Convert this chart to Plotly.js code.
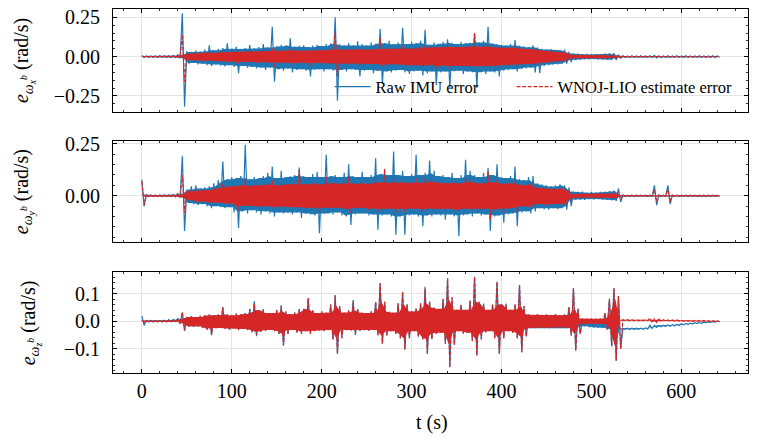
<!DOCTYPE html>
<html>
<head>
<meta charset="utf-8">
<script src="https://cdn.plot.ly/plotly-3.0.1.min.js"></script>
<style>
  html, body { margin: 0; padding: 0; background: #ffffff; }
  #chart { width: 759px; height: 444px; }
</style>
</head>
<body>
<div id="chart"></div>
<script>
// Angular-velocity error, min/max per 5 s bin (rad/s); bin i starts at t = 5*i s.
const T_STEP = 5;

// ---- x axis (body frame) ----
const wxRawHi = [
  0.006, 0.004, 0.004, 0.004, 0.005, 0.005, 0.006, 0.007, 0.012, 0.275,
  0.035, 0.030, 0.038, 0.032, 0.045, 0.072, 0.040, 0.048, 0.055, 0.085,
  0.050, 0.062, 0.048, 0.055, 0.074, 0.052, 0.060, 0.080, 0.058, 0.190,
  0.065, 0.075, 0.070, 0.117, 0.062, 0.068, 0.072, 0.060, 0.070, 0.075,
  0.068, 0.080, 0.085, 0.250, 0.078, 0.070, 0.085, 0.072, 0.098, 0.080,
  0.070, 0.090, 0.082, 0.176, 0.085, 0.100, 0.078, 0.090, 0.184, 0.080,
  0.095, 0.085, 0.100, 0.170, 0.075, 0.090, 0.082, 0.095, 0.110, 0.088,
  0.080, 0.095, 0.085, 0.090, 0.148, 0.090, 0.100, 0.190, 0.085, 0.080,
  0.075, 0.070, 0.080, 0.105, 0.070, 0.065, 0.060, 0.072, 0.060, 0.050,
  0.045, 0.048, 0.042, 0.040, 0.045, 0.030, 0.020, 0.018, 0.015, 0.016,
  0.014, 0.015, 0.015, 0.018, 0.020, 0.022, 0.012, 0.005, 0.004, 0.005,
  0.004, 0.005, 0.004, 0.005, 0.008, 0.005, 0.004, 0.005, 0.004, 0.005,
  0.004, 0.005, 0.004, 0.004, 0.005, 0.004, 0.004, 0.005, 0.004
];
const wxRawLo = [
  -0.004, -0.004, -0.004, -0.005, -0.004, -0.005, -0.005, -0.006, -0.010, -0.318,
  -0.045, -0.040, -0.050, -0.045, -0.055, -0.060, -0.050, -0.058, -0.062, -0.055,
  -0.065, -0.106, -0.060, -0.070, -0.065, -0.075, -0.070, -0.085, -0.070, -0.160,
  -0.080, -0.090, -0.075, -0.100, -0.085, -0.080, -0.090, -0.127, -0.085, -0.080,
  -0.095, -0.080, -0.090, -0.280, -0.085, -0.095, -0.080, -0.085, -0.127, -0.090,
  -0.085, -0.105, -0.090, -0.174, -0.095, -0.100, -0.090, -0.085, -0.100, -0.110,
  -0.095, -0.090, -0.120, -0.105, -0.095, -0.180, -0.100, -0.095, -0.200, -0.095,
  -0.090, -0.110, -0.095, -0.100, -0.200, -0.100, -0.110, -0.095, -0.100, -0.127,
  -0.090, -0.085, -0.080, -0.095, -0.080, -0.075, -0.070, -0.100, -0.105, -0.060,
  -0.055, -0.050, -0.050, -0.045, -0.045, -0.035, -0.022, -0.018, -0.016, -0.017,
  -0.015, -0.016, -0.018, -0.020, -0.020, -0.022, -0.010, -0.005, -0.004, -0.005,
  -0.004, -0.005, -0.004, -0.005, -0.008, -0.005, -0.004, -0.005, -0.004, -0.005,
  -0.004, -0.005, -0.004, -0.004, -0.005, -0.004, -0.004, -0.005, -0.004
];
const wxEstHi = [
  0.005, 0.003, 0.003, 0.003, 0.003, 0.003, 0.003, 0.004, 0.008, 0.140,
  0.020, 0.022, 0.025, 0.022, 0.028, 0.030, 0.025, 0.028, 0.030, 0.035,
  0.030, 0.032, 0.030, 0.035, 0.038, 0.032, 0.035, 0.040, 0.035, 0.055,
  0.038, 0.042, 0.040, 0.050, 0.038, 0.040, 0.042, 0.038, 0.040, 0.045,
  0.042, 0.045, 0.048, 0.160, 0.045, 0.042, 0.048, 0.045, 0.055, 0.048,
  0.045, 0.050, 0.048, 0.120, 0.050, 0.055, 0.048, 0.052, 0.065, 0.050,
  0.055, 0.052, 0.060, 0.070, 0.058, 0.062, 0.060, 0.065, 0.075, 0.062,
  0.060, 0.065, 0.062, 0.068, 0.150, 0.065, 0.070, 0.080, 0.062, 0.060,
  0.058, 0.055, 0.060, 0.065, 0.055, 0.050, 0.048, 0.050, 0.045, 0.038,
  0.035, 0.035, 0.032, 0.030, 0.032, 0.022, 0.012, 0.010, 0.009, 0.010,
  0.009, 0.010, 0.009, 0.010, 0.011, 0.012, 0.006, 0.003, 0.002, 0.002,
  0.002, 0.002, 0.002, 0.002, 0.003, 0.002, 0.002, 0.002, 0.002, 0.002,
  0.002, 0.002, 0.002, 0.002, 0.002, 0.002, 0.002, 0.002, 0.002
];
const wxEstLo = [
  -0.003, -0.003, -0.003, -0.003, -0.003, -0.003, -0.003, -0.004, -0.008, -0.160,
  -0.022, -0.025, -0.028, -0.025, -0.030, -0.032, -0.028, -0.030, -0.032, -0.035,
  -0.032, -0.045, -0.032, -0.036, -0.035, -0.038, -0.036, -0.042, -0.038, -0.065,
  -0.040, -0.045, -0.040, -0.048, -0.042, -0.040, -0.045, -0.055, -0.042, -0.040,
  -0.045, -0.042, -0.048, -0.130, -0.045, -0.048, -0.042, -0.045, -0.055, -0.048,
  -0.045, -0.052, -0.048, -0.060, -0.050, -0.052, -0.048, -0.050, -0.055, -0.058,
  -0.055, -0.052, -0.062, -0.058, -0.055, -0.075, -0.058, -0.060, -0.078, -0.060,
  -0.058, -0.062, -0.060, -0.062, -0.065, -0.060, -0.065, -0.060, -0.062, -0.070,
  -0.058, -0.055, -0.052, -0.058, -0.050, -0.048, -0.045, -0.055, -0.055, -0.040,
  -0.036, -0.034, -0.032, -0.030, -0.030, -0.022, -0.012, -0.010, -0.009, -0.010,
  -0.009, -0.010, -0.010, -0.011, -0.011, -0.012, -0.006, -0.003, -0.002, -0.002,
  -0.002, -0.002, -0.002, -0.002, -0.002, -0.002, -0.002, -0.002, -0.002, -0.002,
  -0.002, -0.002, -0.002, -0.002, -0.002, -0.002, -0.002, -0.002, -0.002
];

// ---- y axis (body frame) ----
const wyRawHi = [
  0.077, 0.006, 0.004, 0.004, 0.004, 0.004, 0.004, 0.006, 0.012, 0.190,
  0.030, 0.045, 0.050, 0.035, 0.040, 0.045, 0.060, 0.075, 0.165, 0.080,
  0.090, 0.085, 0.095, 0.245, 0.080, 0.090, 0.085, 0.095, 0.110, 0.140,
  0.085, 0.120, 0.090, 0.095, 0.100, 0.136, 0.095, 0.090, 0.105, 0.115,
  0.090, 0.197, 0.095, 0.100, 0.090, 0.110, 0.152, 0.095, 0.090, 0.115,
  0.090, 0.100, 0.180, 0.105, 0.110, 0.100, 0.213, 0.100, 0.120, 0.095,
  0.105, 0.197, 0.100, 0.110, 0.170, 0.120, 0.095, 0.100, 0.090, 0.110,
  0.085, 0.100, 0.173, 0.120, 0.100, 0.090, 0.110, 0.135, 0.100, 0.152,
  0.090, 0.085, 0.095, 0.140, 0.080, 0.075, 0.090, 0.095, 0.060, 0.055,
  0.050, 0.045, 0.050, 0.055, 0.050, 0.040, 0.020, 0.018, 0.020, 0.015,
  0.018, 0.015, 0.018, 0.020, 0.022, 0.025, 0.035, 0.004, 0.003, 0.003,
  0.003, 0.003, 0.003, 0.003, 0.050, 0.004, 0.003, 0.050, 0.003, 0.003,
  0.003, 0.003, 0.003, 0.003, 0.003, 0.003, 0.003, 0.003, 0.003
];
const wyRawLo = [
  -0.050, -0.004, -0.004, -0.004, -0.004, -0.004, -0.004, -0.005, -0.010, -0.170,
  -0.035, -0.040, -0.045, -0.040, -0.050, -0.060, -0.050, -0.055, -0.060, -0.055,
  -0.080, -0.155, -0.075, -0.085, -0.070, -0.080, -0.090, -0.075, -0.085, -0.100,
  -0.080, -0.085, -0.080, -0.090, -0.080, -0.107, -0.085, -0.090, -0.095, -0.180,
  -0.085, -0.085, -0.090, -0.080, -0.095, -0.100, -0.140, -0.090, -0.085, -0.085,
  -0.095, -0.090, -0.163, -0.095, -0.090, -0.100, -0.187, -0.100, -0.187, -0.095,
  -0.090, -0.100, -0.147, -0.095, -0.100, -0.090, -0.095, -0.115, -0.090, -0.100,
  -0.195, -0.095, -0.090, -0.100, -0.085, -0.095, -0.090, -0.170, -0.100, -0.095,
  -0.130, -0.090, -0.085, -0.147, -0.080, -0.075, -0.085, -0.075, -0.060, -0.065,
  -0.067, -0.060, -0.065, -0.060, -0.067, -0.050, -0.020, -0.018, -0.020, -0.016,
  -0.018, -0.016, -0.018, -0.020, -0.022, -0.025, -0.030, -0.004, -0.003, -0.003,
  -0.003, -0.003, -0.003, -0.003, -0.045, -0.004, -0.003, -0.040, -0.003, -0.003,
  -0.003, -0.003, -0.003, -0.003, -0.003, -0.003, -0.003, -0.003, -0.003
];
const wyEstHi = [
  0.070, 0.003, 0.003, 0.003, 0.003, 0.003, 0.003, 0.004, 0.008, 0.100,
  0.022, 0.030, 0.035, 0.025, 0.028, 0.030, 0.035, 0.040, 0.060, 0.045,
  0.050, 0.048, 0.052, 0.085, 0.048, 0.052, 0.050, 0.055, 0.060, 0.075,
  0.050, 0.065, 0.055, 0.058, 0.060, 0.125, 0.058, 0.055, 0.062, 0.065,
  0.055, 0.090, 0.060, 0.062, 0.058, 0.065, 0.090, 0.060, 0.058, 0.065,
  0.058, 0.062, 0.085, 0.065, 0.130, 0.062, 0.090, 0.062, 0.070, 0.060,
  0.065, 0.085, 0.062, 0.085, 0.075, 0.070, 0.062, 0.065, 0.060, 0.070,
  0.060, 0.065, 0.090, 0.075, 0.065, 0.060, 0.070, 0.117, 0.065, 0.080,
  0.060, 0.058, 0.062, 0.075, 0.055, 0.050, 0.060, 0.058, 0.040, 0.038,
  0.035, 0.032, 0.035, 0.038, 0.035, 0.028, 0.010, 0.009, 0.010, 0.008,
  0.009, 0.008, 0.009, 0.010, 0.011, 0.012, 0.020, 0.002, 0.002, 0.002,
  0.002, 0.002, 0.002, 0.002, 0.030, 0.002, 0.002, 0.030, 0.002, 0.002,
  0.002, 0.002, 0.002, 0.002, 0.002, 0.002, 0.002, 0.002, 0.002
];
const wyEstLo = [
  -0.045, -0.003, -0.003, -0.003, -0.003, -0.003, -0.003, -0.004, -0.008, -0.083,
  -0.022, -0.028, -0.032, -0.028, -0.032, -0.038, -0.032, -0.035, -0.040, -0.038,
  -0.050, -0.065, -0.048, -0.052, -0.048, -0.052, -0.055, -0.050, -0.055, -0.062,
  -0.052, -0.055, -0.052, -0.058, -0.055, -0.065, -0.058, -0.060, -0.062, -0.083,
  -0.058, -0.060, -0.062, -0.058, -0.062, -0.065, -0.080, -0.062, -0.058, -0.060,
  -0.070, -0.062, -0.080, -0.065, -0.062, -0.065, -0.085, -0.065, -0.080, -0.062,
  -0.062, -0.065, -0.075, -0.062, -0.065, -0.062, -0.065, -0.070, -0.062, -0.068,
  -0.075, -0.065, -0.062, -0.068, -0.060, -0.065, -0.062, -0.115, -0.068, -0.065,
  -0.080, -0.062, -0.060, -0.085, -0.055, -0.050, -0.058, -0.052, -0.040, -0.045,
  -0.045, -0.040, -0.042, -0.040, -0.045, -0.032, -0.010, -0.009, -0.010, -0.008,
  -0.009, -0.008, -0.009, -0.010, -0.011, -0.012, -0.020, -0.002, -0.002, -0.002,
  -0.002, -0.002, -0.002, -0.002, -0.030, -0.002, -0.002, -0.028, -0.002, -0.002,
  -0.002, -0.002, -0.002, -0.002, -0.002, -0.002, -0.002, -0.002, -0.002
];

// ---- z axis (body frame) ----
const wzRawHi = [
  0.020, 0.003, 0.003, 0.003, 0.003, 0.004, 0.006, 0.007, 0.010, 0.030,
  0.015, 0.018, 0.015, 0.020, 0.022, 0.025, 0.022, 0.025, 0.052, 0.025,
  0.020, 0.028, 0.025, 0.030, 0.045, 0.073, 0.040, 0.045, 0.030, 0.028,
  0.040, 0.058, 0.035, 0.025, 0.032, 0.045, 0.045, 0.083, 0.040, 0.028,
  0.035, 0.030, 0.060, 0.095, 0.055, 0.030, 0.040, 0.077, 0.045, 0.030,
  0.028, 0.035, 0.070, 0.138, 0.070, 0.035, 0.030, 0.065, 0.107, 0.060,
  0.035, 0.045, 0.065, 0.126, 0.070, 0.050, 0.045, 0.080, 0.156, 0.085,
  0.040, 0.060, 0.040, 0.075, 0.162, 0.070, 0.065, 0.040, 0.060, 0.144,
  0.060, 0.065, 0.040, 0.060, 0.132, 0.055, 0.025, 0.022, 0.025, 0.020,
  0.025, 0.022, 0.025, 0.020, 0.025, 0.050, 0.120, 0.045, 0.008, 0.004,
  0.003, 0.003, 0.003, 0.030, 0.080, 0.120, 0.090, -0.025, -0.025, -0.025,
  -0.025, -0.025, -0.024, -0.014, -0.015, -0.015, -0.014, -0.013, -0.012, -0.011,
  -0.009, -0.008, -0.007, -0.005, -0.004, -0.003, -0.002, -0.001, 0.001
];
const wzRawLo = [
  -0.015, -0.002, -0.002, -0.002, -0.002, -0.002, -0.001, -0.001, -0.008, -0.035,
  -0.018, -0.020, -0.018, -0.025, -0.030, -0.050, -0.025, -0.022, -0.028, -0.030,
  -0.025, -0.030, -0.028, -0.030, -0.040, -0.054, -0.038, -0.035, -0.030, -0.035,
  -0.045, -0.088, -0.045, -0.030, -0.040, -0.045, -0.035, -0.045, -0.035, -0.032,
  -0.035, -0.030, -0.065, -0.118, -0.060, -0.030, -0.032, -0.050, -0.035, -0.030,
  -0.035, -0.030, -0.050, -0.082, -0.050, -0.035, -0.045, -0.060, -0.102, -0.060,
  -0.035, -0.055, -0.065, -0.118, -0.065, -0.045, -0.040, -0.080, -0.167, -0.085,
  -0.035, -0.045, -0.040, -0.070, -0.124, -0.065, -0.040, -0.035, -0.060, -0.118,
  -0.060, -0.035, -0.040, -0.060, -0.112, -0.055, -0.025, -0.025, -0.025, -0.025,
  -0.025, -0.025, -0.025, -0.025, -0.025, -0.050, -0.106, -0.045, -0.018, -0.022,
  -0.023, -0.024, -0.024, -0.030, -0.090, -0.143, -0.100, -0.029, -0.029, -0.029,
  -0.029, -0.029, -0.028, -0.026, -0.022, -0.020, -0.019, -0.018, -0.017, -0.015,
  -0.013, -0.011, -0.010, -0.008, -0.007, -0.005, -0.004, -0.003, -0.002
];
const wzEstHi = [
  0.004, 0.002, 0.002, 0.002, 0.002, 0.002, 0.003, 0.003, 0.010, 0.034,
  0.016, 0.018, 0.016, 0.020, 0.022, 0.026, 0.022, 0.025, 0.050, 0.026,
  0.022, 0.028, 0.026, 0.030, 0.045, 0.065, 0.040, 0.042, 0.030, 0.030,
  0.042, 0.055, 0.036, 0.026, 0.032, 0.045, 0.046, 0.085, 0.042, 0.030,
  0.036, 0.032, 0.062, 0.095, 0.056, 0.032, 0.040, 0.070, 0.046, 0.032,
  0.030, 0.036, 0.072, 0.138, 0.072, 0.036, 0.032, 0.066, 0.107, 0.062,
  0.036, 0.046, 0.066, 0.118, 0.072, 0.050, 0.046, 0.082, 0.156, 0.088,
  0.042, 0.058, 0.042, 0.076, 0.162, 0.072, 0.062, 0.042, 0.062, 0.144,
  0.062, 0.060, 0.042, 0.062, 0.132, 0.056, 0.026, 0.024, 0.026, 0.022,
  0.026, 0.024, 0.026, 0.022, 0.026, 0.052, 0.120, 0.046, 0.010, 0.009,
  0.010, 0.009, 0.010, 0.030, 0.082, 0.120, 0.092, 0.006, 0.006, 0.006,
  0.006, 0.006, 0.006, 0.012, 0.010, 0.008, 0.006, 0.005, 0.005, 0.005,
  0.004, 0.004, 0.004, 0.003, 0.003, 0.003, 0.002, 0.002, 0.002
];
const wzEstLo = [
  -0.004, -0.002, -0.002, -0.002, -0.002, -0.002, -0.002, -0.002, -0.010, -0.033,
  -0.018, -0.020, -0.018, -0.026, -0.032, -0.050, -0.026, -0.024, -0.028, -0.030,
  -0.026, -0.032, -0.028, -0.032, -0.040, -0.050, -0.038, -0.036, -0.032, -0.036,
  -0.046, -0.088, -0.046, -0.032, -0.042, -0.046, -0.036, -0.046, -0.036, -0.034,
  -0.036, -0.032, -0.066, -0.118, -0.062, -0.032, -0.034, -0.048, -0.036, -0.032,
  -0.036, -0.032, -0.052, -0.080, -0.052, -0.036, -0.046, -0.062, -0.102, -0.062,
  -0.036, -0.055, -0.066, -0.118, -0.066, -0.046, -0.042, -0.082, -0.167, -0.086,
  -0.036, -0.046, -0.042, -0.072, -0.124, -0.066, -0.042, -0.036, -0.062, -0.118,
  -0.062, -0.036, -0.042, -0.062, -0.112, -0.056, -0.024, -0.022, -0.024, -0.022,
  -0.024, -0.022, -0.024, -0.022, -0.024, -0.052, -0.106, -0.046, -0.010, -0.009,
  -0.010, -0.009, -0.010, -0.030, -0.092, -0.143, -0.100, 0.002, 0.002, 0.002,
  0.002, 0.002, 0.002, -0.006, -0.004, -0.002, 0.001, 0.001, 0.001, 0.001,
  0.000, 0.000, 0.000, 0.000, -0.001, -0.001, -0.001, -0.001, -0.001
];

const seriesNames = ['Raw IMU error', 'WNOJ-LIO estimate error'];
const axisLabels = [
  '<i>e</i><sub><i>ω</i><sub><i>x</i></sub><sup><i>b</i></sup></sub> (rad/s)',
  '<i>e</i><sub><i>ω</i><sub><i>y</i></sub><sup><i>b</i></sup></sub> (rad/s)',
  '<i>e</i><sub><i>ω</i><sub><i>z</i></sub><sup><i>b</i></sup></sub> (rad/s)'
];
const xLabel = 't (s)';

const BLUE = '#1f77b4';
const RED = '#d62728';
const SERIF = 'Liberation Serif';

// Each bin is drawn as its max then its min (min/max decimated trace).
function binTrace(hi, lo) {
  const x = [], y = [];
  for (let i = 0; i < hi.length; i++) {
    x.push(i * T_STEP, i * T_STEP + T_STEP / 2);
    y.push(hi[i], lo[i]);
  }
  return { x, y };
}
// Dense core of the trace: the range every neighbouring bin also reaches,
// so isolated spikes stay thin lines instead of wide wedges.
function coreBand(hi, lo) {
  const n = hi.length, x = [], y = [];
  const up = [], dn = [];
  for (let i = 0; i < n; i++) {
    const a = Math.max(0, i - 1), b = Math.min(n - 1, i + 1);
    up.push(Math.min(hi[a], hi[i], hi[b]));
    dn.push(Math.max(lo[a], lo[i], lo[b]));
  }
  for (let i = 0; i < n; i++) { x.push(i * T_STEP + T_STEP / 4); y.push(up[i]); }
  for (let i = n - 1; i >= 0; i--) { x.push(i * T_STEP + T_STEP / 4); y.push(dn[i]); }
  return { x, y };
}

function series(hi, lo, axisIdx, isRaw) {
  const suffix = axisIdx === 1 ? '' : String(axisIdx);
  const color = isRaw ? BLUE : RED;
  const band = coreBand(hi, lo);
  const d = binTrace(hi, lo);
  return [
    {
      type: 'scatter', mode: 'lines', x: band.x, y: band.y,
      xaxis: 'x' + suffix, yaxis: 'y' + suffix,
      fill: 'toself', fillcolor: color, line: { width: 0, color: color },
      showlegend: false, hoverinfo: 'skip'
    },
    {
      type: 'scatter', mode: 'lines', x: d.x, y: d.y,
      xaxis: 'x' + suffix, yaxis: 'y' + suffix,
      name: isRaw ? seriesNames[0] : seriesNames[1],
      legend: isRaw ? 'legend' : 'legend2',
      showlegend: axisIdx === 1,
      line: isRaw
        ? { color: BLUE, width: 1.2, simplify: false }
        : { color: RED, width: 1.2, dash: '4px,1.6px', simplify: false },
      hoverinfo: 'skip'
    }
  ];
}

const traces = [].concat(
  series(wxRawHi, wxRawLo, 1, true), series(wxEstHi, wxEstLo, 1, false),
  series(wyRawHi, wyRawLo, 2, true), series(wyEstHi, wyEstLo, 2, false),
  series(wzRawHi, wzRawLo, 3, true), series(wzEstHi, wzEstLo, 3, false)
);

const tickFont = { family: SERIF, size: 20, color: '#000' };
function xAx(anchor, showLabels) {
  return {
    anchor: anchor, range: [-32.1, 674.1], dtick: 100, tick0: 0,
    showticklabels: showLabels, tickfont: tickFont,
    ticks: 'inside', ticklen: 4, tickwidth: 1, tickcolor: '#000',
    minor: { dtick: 20, ticks: 'inside', ticklen: 2, tickwidth: 0.8, tickcolor: '#000', showgrid: false },
    mirror: 'allticks', showline: true, linecolor: '#000', linewidth: 1,
    showgrid: true, gridcolor: '#e3e3e3', gridwidth: 1, zeroline: false,
    ticklabelstandoff: 0
  };
}
function yAx(anchor, domain, range, dtick, fmt, minor) {
  return {
    anchor: anchor, domain: domain, range: range, dtick: dtick, tick0: 0,
    tickformat: fmt, tickfont: tickFont,
    ticks: 'inside', ticklen: 4, tickwidth: 1, tickcolor: '#000',
    minor: { dtick: minor, ticks: 'inside', ticklen: 2, tickwidth: 0.8, tickcolor: '#000', showgrid: false },
    mirror: 'allticks', showline: true, linecolor: '#000', linewidth: 1,
    showgrid: true, gridcolor: '#e3e3e3', gridwidth: 1, zeroline: false,
    ticklabelstandoff: 8
  };
}

const PW = 635.3;  // plot-area width in px
const px2paper = (px) => (px - 113.3) / PW;
const labelAnn = (txt, px, yc) => ({
  text: txt, xref: 'paper', yref: 'paper',
  x: px2paper(px), y: yc, xanchor: 'center', yanchor: 'middle',
  textangle: -90, showarrow: false,
  font: { family: SERIF, size: 20, color: '#000' }
});
const legendBase = (px) => ({
  orientation: 'h', x: px2paper(px), xanchor: 'left', y: 0.786, yanchor: 'middle',
  bgcolor: 'rgba(0,0,0,0)', borderwidth: 0,
  font: { family: SERIF, size: 16.5, color: '#000' },
  itemwidth: 36
});

const layout = {
  width: 759, height: 444,
  margin: { l: 113.3, r: 10.7, t: 9, b: 70.7, pad: 0 },
  paper_bgcolor: '#ffffff', plot_bgcolor: '#ffffff',
  font: { family: SERIF, color: '#000' },
  showlegend: true,
  legend: legendBase(330),
  legend2: legendBase(512),
  xaxis: xAx('y', false),
  xaxis2: xAx('y2', false),
  xaxis3: xAx('y3', true),
  yaxis: yAx('x', [0.7181, 1], [-0.350, 0.303], 0.25, '.2f', 0.05),
  yaxis2: yAx('x2', [0.3596, 0.6377], [-0.223, 0.264], 0.25, '.2f', 0.05),
  yaxis3: yAx('x3', [0, 0.2772], [-0.188, 0.179], 0.1, '.1f', 0.02),
  annotations: [
    labelAnn(axisLabels[0], 24, 0.859),
    labelAnn(axisLabels[1], 24, 0.4987),
    labelAnn(axisLabels[2], 31, 0.1386),
    { text: xLabel, xref: 'paper', yref: 'paper', x: px2paper(432), y: -0.1364,
      xanchor: 'center', yanchor: 'middle', showarrow: false,
      font: { family: SERIF, size: 20, color: '#000' } }
  ]
};

Plotly.newPlot('chart', traces, layout, { staticPlot: true, displayModeBar: false });
</script>
</body>
</html>
